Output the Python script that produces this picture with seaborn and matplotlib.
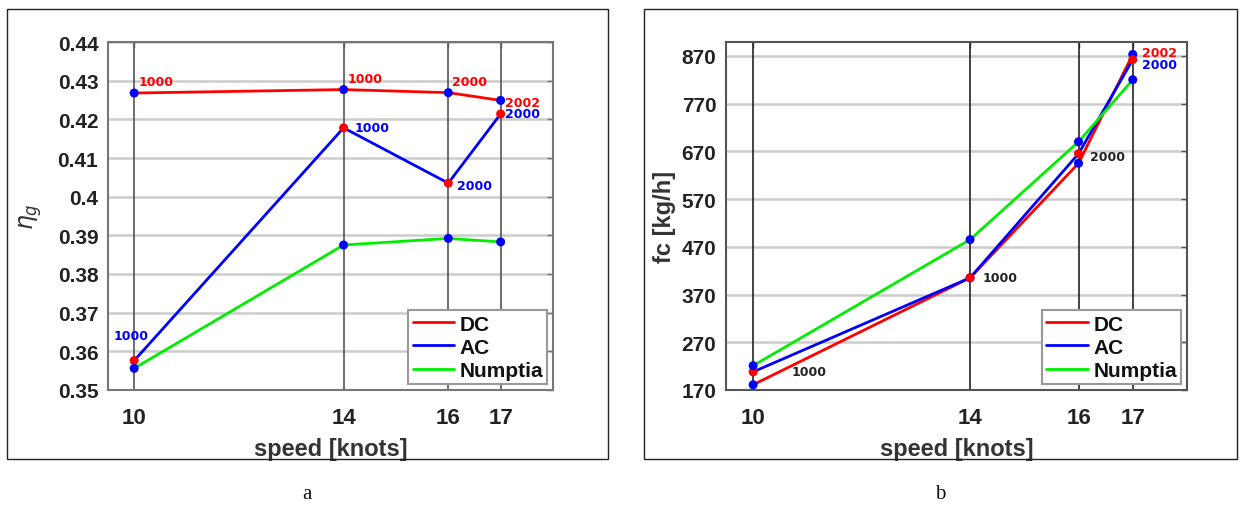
import numpy as np
import pandas as pd
import matplotlib
matplotlib.use("Agg")
import matplotlib.pyplot as plt
import seaborn as sns
from matplotlib.patches import Rectangle

# ---- data -------------------------------------------------------------
speed = [10, 14, 16, 17]
series = ["DC", "AC", "Numptia"]

# generator efficiency
eta_dc = [0.4268, 0.4277, 0.4269, 0.4249]
eta_ac = [0.3576, 0.4178, 0.4035, 0.4214]
eta_numptia = [0.3556, 0.3875, 0.3892, 0.3883]

# fuel consumption [kg/h]
fc_dc = [181, 405, 645, 873]
fc_ac = [208, 405, 665, 862]
fc_numptia = [221, 485, 690, 820]

eta_ticks = [0.35, 0.36, 0.37, 0.38, 0.39, 0.40, 0.41, 0.42, 0.43, 0.44]
eta_ticklabels = ["0.35", "0.36", "0.37", "0.38", "0.39", "0.4",
                  "0.41", "0.42", "0.43", "0.44"]
fc_ticks = [170, 270, 370, 470, 570, 670, 770, 870]
fc_ticklabels = ["170", "270", "370", "470", "570", "670", "770", "870"]

# operating-point tags next to the markers
eta_dc_tags = ["1000", "1000", "2000", "2002"]
eta_ac_tags = ["1000", "1000", "2000", "2000"]
fc_ac_tags = ["1000", "1000", "2000", "2000"]
fc_dc_tag_17 = "2002"

RED, BLUE, GREEN = "#ff0000", "#0000ff", "#00ee00"
palette = {"DC": RED, "AC": BLUE, "Numptia": GREEN}

# ---- style ------------------------------------------------------------
sns.set_style("white")
plt.rcParams["font.family"] = ["Liberation Sans", "DejaVu Sans"]
plt.rcParams["mathtext.fontset"] = "dejavusans"

W, H = 1243, 506
fig = plt.figure(figsize=(W / 100, H / 100), dpi=100)


def px_axes(x0, y0, x1, y1):
    return fig.add_axes([x0 / W, 1 - y1 / H, (x1 - x0) / W, (y1 - y0) / H])


def frame(x0, y0, x1, y1):
    fig.patches.append(Rectangle((x0 / W, 1 - y1 / H), (x1 - x0) / W, (y1 - y0) / H,
                                 transform=fig.transFigure, fill=False,
                                 edgecolor="#222222", linewidth=1.0))


def long_form(a, b, c):
    return pd.DataFrame({
        "speed": speed * 3,
        "value": list(a) + list(b) + list(c),
        "series": np.repeat(series, len(speed)),
    })


def style_axes(ax, ticks, ticklabels, ylim, vcolor, spine_color):
    ax.set_xlim(9.5, 18)
    ax.set_ylim(*ylim)
    ax.set_xticks(speed)
    ax.set_xticklabels([str(s) for s in speed])
    ax.set_yticks(ticks)
    ax.set_yticklabels(ticklabels)
    ax.grid(False)
    for t in ticks:
        ax.axhline(t, color="#cccccc", linewidth=1.8, zorder=0.5)
    for s in speed:
        ax.axvline(s, color=vcolor, linewidth=1.2, zorder=0.6)
    for sp in ax.spines.values():
        sp.set_color(spine_color)
        sp.set_linewidth(1.5)
        sp.set_visible(True)
    ax.tick_params(axis="both", direction="in", length=4, width=1,
                   color=spine_color, right=True, top=True)
    ax.tick_params(axis="y", pad=7, labelsize=15)
    ax.tick_params(axis="x", pad=12, labelsize=16)
    for lab in ax.get_xticklabels() + ax.get_yticklabels():
        lab.set_fontweight("bold")
        lab.set_color("#222222")
    ax.set_xlabel("speed [knots]", fontsize=17, fontweight="bold",
                  color="#333333", labelpad=7)


def draw_lines(ax, df):
    sns.lineplot(data=df, x="speed", y="value", hue="series", hue_order=series,
                 palette=palette, linewidth=2.0, ax=ax, zorder=3,
                 estimator=None, sort=False)


def dots(ax, x, y, color):
    sns.scatterplot(x=x, y=y, color=color, s=42, edgecolor="none",
                    legend=False, ax=ax, zorder=4)


def tag(ax, text, x, y, dx, dy, color, ha="left"):
    ax.annotate(text, (x, y), xytext=(dx, dy), textcoords="offset points",
                ha=ha, va="center", fontsize=9, fontweight="bold",
                color=color, family="DejaVu Sans", zorder=5)


def legend(ax):
    handles, labels = ax.get_legend_handles_labels()
    leg = ax.legend(handles, labels, loc="lower right",
                    bbox_to_anchor=(0.987, 0.017), borderaxespad=0,
                    frameon=True, fancybox=False, framealpha=1,
                    edgecolor="#999999", prop={"weight": "bold", "size": 15},
                    handlelength=2.0, handletextpad=0.25, labelspacing=0.2,
                    borderpad=0.2)
    leg.get_frame().set_linewidth(1.5)
    for line in leg.get_lines():
        line.set_linewidth(2.0)
    for t in leg.get_texts():
        t.set_color("#111111")


# ---- panel a: efficiency ----------------------------------------------
frame(7, 10, 608, 460)
ax1 = px_axes(108, 43, 553, 391)
draw_lines(ax1, long_form(eta_dc, eta_ac, eta_numptia))
dots(ax1, speed, eta_dc, BLUE)
dots(ax1, speed, eta_ac, RED)
dots(ax1, speed, eta_numptia, BLUE)
style_axes(ax1, eta_ticks, eta_ticklabels, (0.35, 0.44), "#555555", "#777777")
ax1.set_ylabel(r"$\eta_g$", fontsize=17, color="#333333", labelpad=10)
legend(ax1)

for i, (x, y, t) in enumerate(zip(speed, eta_dc, eta_dc_tags)):
    if i < 3:
        tag(ax1, t, x, y, 3, 8, RED)
    else:
        tag(ax1, t, x, y, 3, -1.5, RED)
ac_offsets = [(-2, 18, "center"), (8, 0, "left"), (6, -1.5, "left"), (3, 0, "left")]
for (x, y, t), (dx, dy, ha) in zip(zip(speed, eta_ac, eta_ac_tags), ac_offsets):
    tag(ax1, t, x, y, dx, dy, BLUE, ha=ha)

# ---- panel b: fuel consumption ----------------------------------------
frame(644, 10, 1237, 460)
ax2 = px_axes(726, 43, 1187, 391)
draw_lines(ax2, long_form(fc_dc, fc_ac, fc_numptia))
dots(ax2, speed, fc_dc, BLUE)
dots(ax2, speed, fc_ac, RED)
dots(ax2, speed, fc_numptia, BLUE)
style_axes(ax2, fc_ticks, fc_ticklabels, (170, 899), "#222222", "#555555")
ax2.set_ylabel("fc [kg/h]", fontsize=17, fontweight="bold", color="#333333",
               labelpad=4)
legend(ax2)

fc_offsets = [(28, 0), (9, 0), (8, -2)]
for (x, y, t), (dx, dy) in zip(zip(speed[:3], fc_ac[:3], fc_ac_tags[:3]), fc_offsets):
    tag(ax2, t, x, y, dx, dy, "#222222")
tag(ax2, fc_dc_tag_17, speed[3], fc_dc[3], 6.5, 1.5, RED)
tag(ax2, fc_ac_tags[3], speed[3], fc_ac[3], 6.5, -3.5, BLUE)

# ---- panel captions ----------------------------------------------------
fig.text(307 / W, 1 - 495 / H, "a", ha="center", va="center",
         fontsize=15, family="Liberation Serif", color="#111111")
fig.text(940 / W, 1 - 495 / H, "b", ha="center", va="center",
         fontsize=15, family="Liberation Serif", color="#111111")

fig.savefig("out.png", dpi=100, facecolor="white")
